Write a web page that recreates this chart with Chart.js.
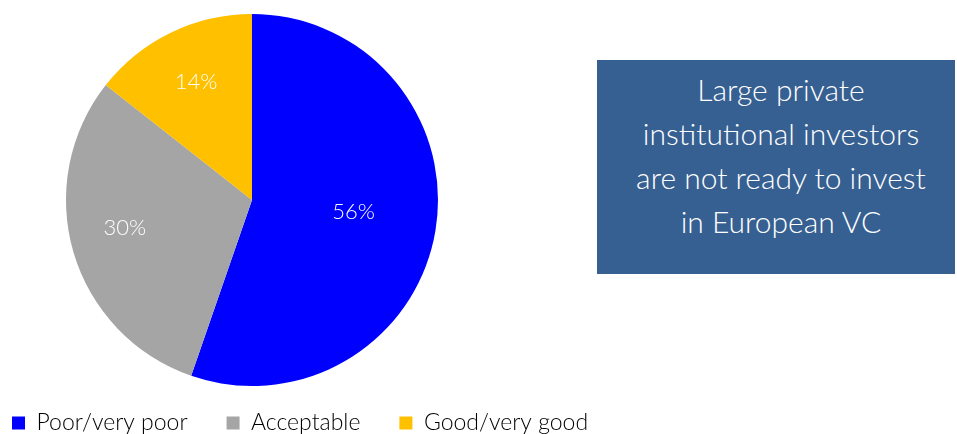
<!DOCTYPE html>
<html>
<head>
<meta charset="utf-8">
<script src="https://cdn.jsdelivr.net/npm/chart.js@4"></script>
<style>
  html, body { margin: 0; padding: 0; background: #fff; }
  #wrap { position: relative; width: 957px; height: 434px; overflow: hidden; }
  #c { position: absolute; left: 0; top: 0; }
  #note {
    position: absolute; left: 597px; top: 60px; width: 358px; height: 214px;
    background: #376092; color: #fff;
    font-family: Lato, "Open Sans", sans-serif; font-weight: 300;
    font-size: 30px; line-height: 44px; text-align: center;
    display: flex; align-items: center; justify-content: center;
    box-sizing: border-box; padding: 0 10px 24px 20px;
  }
</style>
</head>
<body>
<div id="wrap">
  <canvas id="c" width="957" height="434"></canvas>
  <div id="note">Large private<br>institutional investors<br>are not ready to invest<br>in European VC</div>
</div>
<script>
const categories = ["Poor/very poor", "Acceptable", "Good/very good"];
const shares = [55.3, 30.3, 14.4];
const labelTexts = ["56%", "30%", "14%"];
const colors = ["#0000FF", "#A5A5A5", "#FFC000"];
const labelRadius = [0.55, 0.70, 0.70];
const labelAngleShiftDeg = [-3, 4, 0.5];

const LEGEND_PAD = 39;
const LEGEND_FONT = 23;

const placePie = {
  id: 'placePie',
  afterLayout(chart) {
    const a = chart.chartArea;
    a.left = 66; a.right = 438; a.top = 14; a.bottom = 386;
    a.width = a.right - a.left; a.height = a.bottom - a.top;
    const lg = chart.legend;
    if (lg) {
      const h = lg.height;
      lg.left = 12 - LEGEND_PAD;
      lg.top = 423 - LEGEND_FONT / 2 - LEGEND_PAD;
      lg.bottom = lg.top + h;
    }
  }
};

const sliceLabels = {
  id: 'sliceLabels',
  afterDatasetsDraw(chart) {
    const ctx = chart.ctx;
    const meta = chart.getDatasetMeta(0);
    ctx.save();
    ctx.font = '300 22px Lato, "Open Sans", sans-serif';
    ctx.fillStyle = '#FFFFFF';
    ctx.textAlign = 'center';
    ctx.textBaseline = 'middle';
    meta.data.forEach((arc, i) => {
      const p = arc.getProps(['x', 'y', 'startAngle', 'endAngle', 'outerRadius'], true);
      const mid = (p.startAngle + p.endAngle) / 2 + labelAngleShiftDeg[i] * Math.PI / 180;
      const r = p.outerRadius * labelRadius[i];
      ctx.fillText(labelTexts[i], p.x + Math.cos(mid) * r, p.y + Math.sin(mid) * r);
    });
    ctx.restore();
  }
};

new Chart(document.getElementById('c'), {
  type: 'pie',
  data: {
    labels: categories,
    datasets: [{
      data: shares,
      backgroundColor: colors,
      borderWidth: 0
    }]
  },
  options: {
    responsive: false,
    animation: false,
    devicePixelRatio: 1,
    plugins: {
      tooltip: { enabled: false },
      legend: {
        position: 'bottom',
        align: 'start',
        labels: {
          boxWidth: 13,
          boxHeight: 13,
          padding: LEGEND_PAD,
          color: '#000000',
          font: { family: 'Lato, "Open Sans", sans-serif', size: LEGEND_FONT, weight: '300' }
        }
      }
    }
  },
  plugins: [placePie, sliceLabels]
});
</script>
</body>
</html>
